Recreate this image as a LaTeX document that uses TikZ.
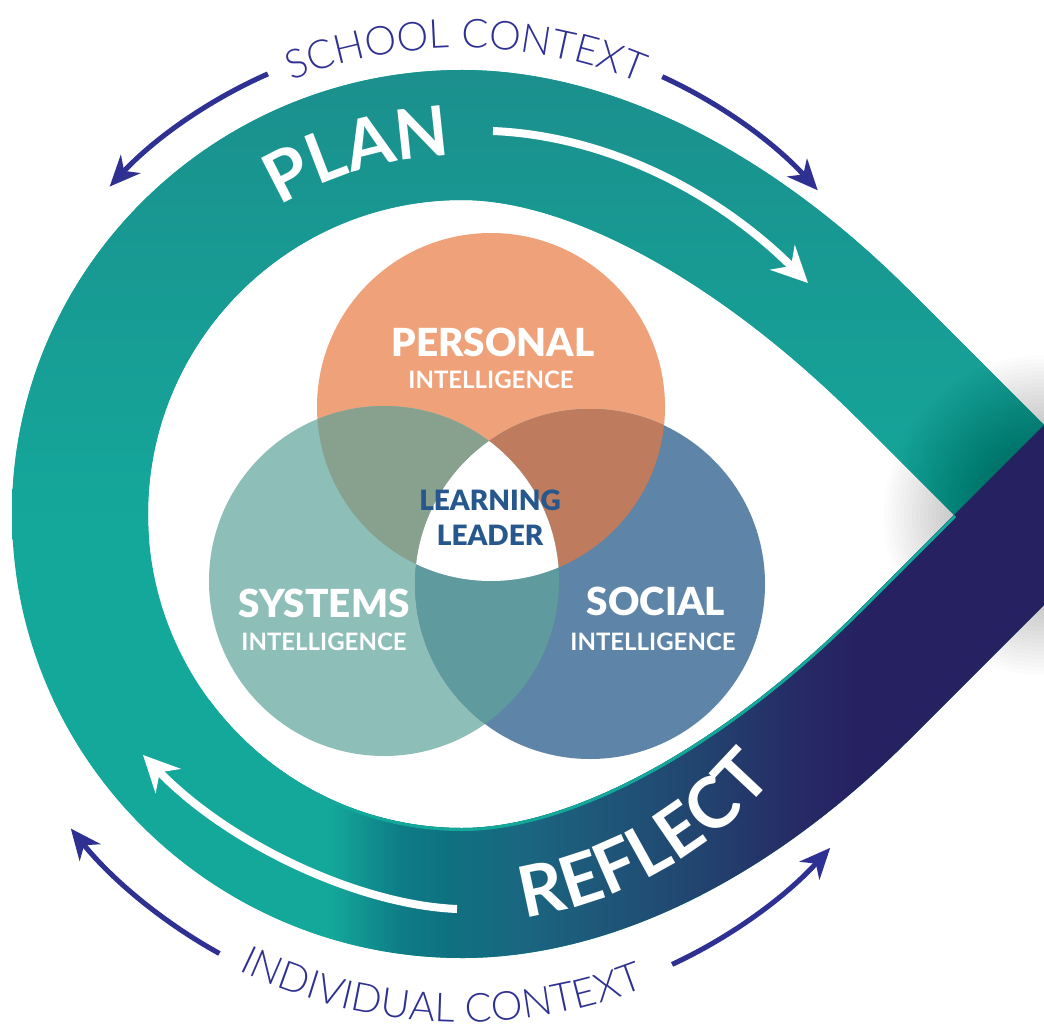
\documentclass[tikz,border=0pt]{standalone}
\usepackage{fontspec}
\setmainfont{Lato}
\newfontfamily\latoblack{Lato Black}
\newfontfamily\latobold{Lato Bold}
\newfontfamily\latolight{Lato Light}
\newfontfamily\bandfont{Lato Bold}[LetterSpace=6]
\newfontfamily\reflfont{Lato Bold}[LetterSpace=8]
\usetikzlibrary{arrows.meta,decorations.text}
\definecolor{bandteal}{HTML}{14A89B}
\definecolor{bandtop}{HTML}{1B8F8D}
\definecolor{gA}{HTML}{0E7C86}
\definecolor{gB}{HTML}{0F7180}
\definecolor{gC}{HTML}{1A6680}
\definecolor{gD}{HTML}{1E5779}
\definecolor{gE}{HTML}{22446F}
\definecolor{gF}{HTML}{262A65}
\definecolor{navyc}{HTML}{262262}
\definecolor{ctxblue}{HTML}{2E3192}
\definecolor{persc}{HTML}{EFA27A}
\definecolor{sysc}{HTML}{8DBEB8}
\definecolor{socc}{HTML}{5E84A8}
\definecolor{pscol}{HTML}{88A08E}
\definecolor{pocol}{HTML}{BE7B5E}
\definecolor{socol}{HTML}{5F9A9E}
\definecolor{leadc}{HTML}{27588D}
\pgfdeclarehorizontalshading{reflgrad}{100bp}{color(0bp)=(bandteal); color(40.8bp)=(bandteal); color(44.2bp)=(gA); color(46.5bp)=(gB); color(50bp)=(gC); color(53.7bp)=(gD); color(58.5bp)=(gE); color(63.3bp)=(gF); color(66bp)=(navyc); color(100bp)=(navyc)}
\tikzset{
  bandpath/.style={insert path={(1134,515) -- (910,291) .. controls (760,141) and (600,70) .. (462,70) .. controls (214,70) and (12,269) .. (12,514) .. controls (12,759) and (214,958) .. (462,958) .. controls (600,958) and (760,889) .. (910,739) -- cycle
     (954,515) -- (860,609) .. controls (720,749) and (570,828) .. (462,828) .. controls (289,828) and (148,687) .. (148,514) .. controls (148,341) and (289,200) .. (462,200) .. controls (570,200) and (720,281) .. (860,421) -- cycle}},
  bigl/.style={text=white, font=\latoblack\fontsize{29}{29}\selectfont, inner sep=0pt},
  smalll/.style={text=white, font=\latobold\fontsize{18}{18}\selectfont, inner sep=0pt},
  leadl/.style={text=leadc, font=\latoblack\fontsize{21}{21}\selectfont, inner sep=0pt},
  ctxarrow/.style={draw=ctxblue, line width=3.8pt, -{Stealth[length=23pt,width=20pt,inset=7pt]}},
  whitearrow/.style={draw=white, line width=6pt, -{Stealth[length=27pt,width=26pt,inset=9pt]}}
}
\begin{document}
\begin{tikzpicture}[x=0.75pt,y=-0.75pt]
\useasboundingbox (0,0) rectangle (1044,1023);
\fill[white] (0,0) rectangle (1044,1023);
\coordinate (c) at (462,514);
% teal loop
\fill[bandteal, bandpath];
\begin{scope}
  \clip[bandpath];
  \shade[top color=bandtop, bottom color=bandteal] (0,60) rectangle (1140,540);
\end{scope}
% soft shadow near the crossing
\foreach \r in {20,24,...,160} \fill[black,opacity=0.011] (1044,515) circle[radius=\r];
% gradient band (reflect)
\begin{scope}
  \clip[bandpath];
  \clip (0,1030) -- (0,700) -- (250,700) -- (954,515) -- (1060,409) -- (1060,1030) -- cycle;
  \shade[shading=reflgrad] (0,0) rectangle (1044,1023);
  % thin teal edge showing along the inner side
  \draw[bandteal, line width=4.5pt] (148,514) .. controls (148,687) and (289,828) .. (462,828) .. controls (570,828) and (720,749) .. (860,609) -- (954,515);
\end{scope}
% circles
\coordinate (cp) at (491,407);
\coordinate (cs) at (384,581);
\coordinate (co) at (590,584);
\fill[persc] (cp) circle[radius=174];
\fill[sysc] (cs) circle[radius=175];
\fill[socc] (co) circle[radius=175];
\begin{scope}
  \clip (cp) circle[radius=174];
  \fill[pscol] (cs) circle[radius=175];
  \fill[pocol] (co) circle[radius=175];
\end{scope}
\begin{scope}
  \clip (cs) circle[radius=175];
  \fill[socol] (co) circle[radius=175];
  \clip (cp) circle[radius=174];
  \fill[white] (co) circle[radius=175];
\end{scope}
% circle labels
\node[bigl] (personal) at (493,342) {PERSONAL};
\node[smalll] (personalI) at (491,380) {INTELLIGENCE};
\node[bigl] (systems) at (324,603) {SYSTEMS};
\node[smalll] (systemsI) at (324,642) {INTELLIGENCE};
\node[bigl] (social) at (656,601) {SOCIAL};
\node[smalll] (socialI) at (653,642) {INTELLIGENCE};
\node[leadl] (learning) at (490,500) {LEARNING};
\node[leadl] (leader) at (490,535) {LEADER};
% band words
\path[decorate, decoration={text along path, text align=center,
  text={|\color{white}\bandfont\fontsize{52}{52}\selectfont|PLAN}}]
  ([shift={(-160:358)}]c) arc[start angle=-160, end angle=-52.4, radius=358];
\path[decorate, decoration={text along path, text align=center,
  text={|\color{white}\reflfont\fontsize{53}{53}\selectfont|REFLECT}}]
  ([shift={(110.7:409)}]c) arc[start angle=110.7, end angle=10.7, radius=409];
% context words
\path[decorate, decoration={text along path, text align=center,
  text={|\color{ctxblue}\latolight\fontsize{30}{30}\selectfont|SCHOOL CONTEXT}}]
  ([shift={(-150:466)}]c) arc[start angle=-150, end angle=-29, radius=466];
\path[decorate, decoration={text along path, text align=center,
  text={|\color{ctxblue}\latolight\fontsize{30}{30}\selectfont|INDIVIDUAL CONTEXT}}]
  ([shift={(152.5:508)}]c) arc[start angle=152.5, end angle=32.5, radius=508];
% context arrows
\draw[ctxarrow] ([shift={(-113.8:481)}]c) arc[start angle=-113.8, end angle=-137.1, radius=481];
\draw[ctxarrow] ([shift={(-65.4:481)}]c) arc[start angle=-65.4, end angle=-42.3, radius=481];
\draw[ctxarrow] ([shift={(118.9:502)}]c) arc[start angle=118.9, end angle=141.2, radius=502];
\draw[ctxarrow] ([shift={(65:497)}]c) arc[start angle=65, end angle=42.2, radius=497];
% white arrows
\coordinate (planS) at (493,131);
\coordinate (planE) at (808,283);
\coordinate (reflS) at (457,909);
\coordinate (reflE) at (143,755);
\draw[whitearrow] (planS) .. controls (610,136) and (720,195) .. (planE);
\draw[whitearrow] (reflS) .. controls (360,905) and (230,845) .. (reflE);
\end{tikzpicture}
\end{document}
